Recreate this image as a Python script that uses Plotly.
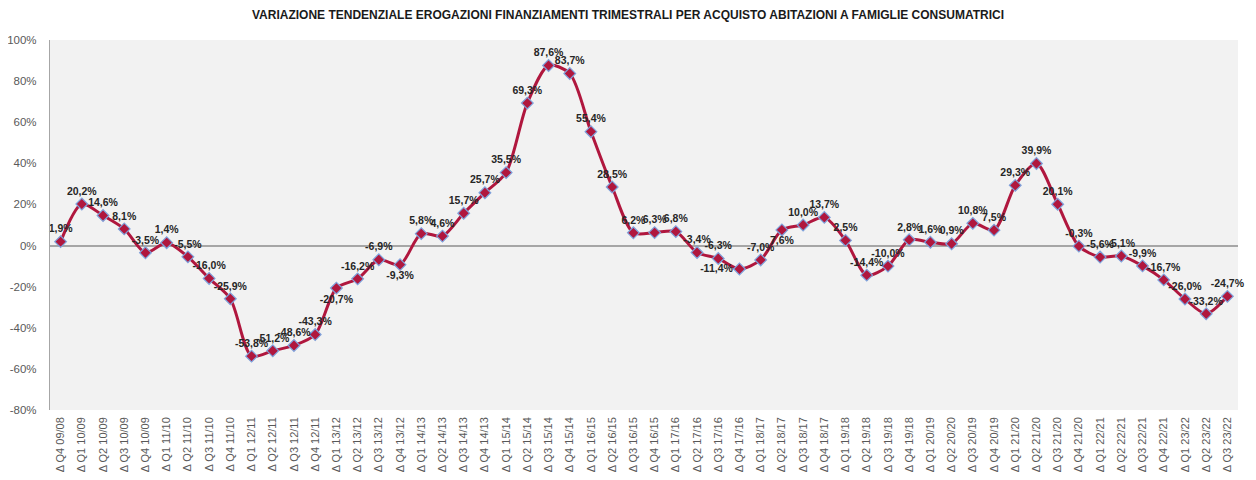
import plotly.graph_objects as go

categories = [
    "Δ Q4 09/08", "Δ Q1 10/09", "Δ Q2 10/09", "Δ Q3 10/09", "Δ Q4 10/09",
    "Δ Q1 11/10", "Δ Q2 11/10", "Δ Q3 11/10", "Δ Q4 11/10",
    "Δ Q1 12/11", "Δ Q2 12/11", "Δ Q3 12/11", "Δ Q4 12/11",
    "Δ Q1 13/12", "Δ Q2 13/12", "Δ Q3 13/12", "Δ Q4 13/12",
    "Δ Q1 14/13", "Δ Q2 14/13", "Δ Q3 14/13", "Δ Q4 14/13",
    "Δ Q1 15/14", "Δ Q2 15/14", "Δ Q3 15/14", "Δ Q4 15/14",
    "Δ Q1 16/15", "Δ Q2 16/15", "Δ Q3 16/15", "Δ Q4 16/15",
    "Δ Q1 17/16", "Δ Q2 17/16", "Δ Q3 17/16", "Δ Q4 17/16",
    "Δ Q1 18/17", "Δ Q2 18/17", "Δ Q3 18/17", "Δ Q4 18/17",
    "Δ Q1 19/18", "Δ Q2 19/18", "Δ Q3 19/18", "Δ Q4 19/18",
    "Δ Q1 20/19", "Δ Q2 20/20", "Δ Q3 20/19", "Δ Q4 20/19",
    "Δ Q1 21/20", "Δ Q2 21/20", "Δ Q3 21/20", "Δ Q4 21/20",
    "Δ Q1 22/21", "Δ Q2 22/21", "Δ Q3 22/21", "Δ Q4 22/21",
    "Δ Q1 23/22", "Δ Q2 23/22", "Δ Q3 23/22",
]

variation_pct = [
    1.9, 20.2, 14.6, 8.1, -3.5,
    1.4, -5.5, -16.0, -25.9,
    -53.8, -51.2, -48.6, -43.3,
    -20.7, -16.2, -6.9, -9.3,
    5.8, 4.6, 15.7, 25.7,
    35.5, 69.3, 87.6, 83.7,
    55.4, 28.5, 6.2, 6.3,
    6.8, -3.4, -6.3, -11.4,
    -7.0, 7.6, 10.0, 13.7,
    2.5, -14.4, -10.0, 2.8,
    1.6, 0.9, 10.8, 7.5,
    29.3, 39.9, 20.1, -0.3,
    -5.6, -5.1, -9.9, -16.7,
    -26.0, -33.2, -24.7,
]

y_ticks = [-80, -60, -40, -20, 0, 20, 40, 60, 80, 100]
y_tick_text = [f"{v}%" for v in y_ticks]

labels = [f"{v:.1f}%".replace(".", ",") for v in variation_pct]

positions = ["top center"] * len(variation_pct)
for i in (13, 16, 34):
    positions[i] = "bottom center"
positions[32] = "middle left"

fig = go.Figure()
fig.add_trace(go.Scatter(
    x=categories,
    y=variation_pct,
    mode="lines+markers+text",
    line=dict(color="#B0173E", width=3, shape="spline", smoothing=0.8),
    marker=dict(symbol="diamond", size=9, color="#B0173E",
                line=dict(color="#7EA2DC", width=1.2)),
    text=labels,
    textposition=positions,
    textfont=dict(family="Liberation Sans, Arial, sans-serif", size=10.5,
                  color="#262626", weight="bold"),
    cliponaxis=False,
    showlegend=False,
    hoverinfo="skip",
))

# page body has an 8px default margin: figure is sized/offset to compensate
fig.update_layout(
    width=1248, height=472,
    margin=dict(l=42, r=18, t=32, b=70, autoexpand=False),
    paper_bgcolor="white",
    plot_bgcolor="#F2F2F2",
    title=dict(
        text="<b>VARIAZIONE TENDENZIALE EROGAZIONI FINANZIAMENTI TRIMESTRALI PER ACQUISTO ABITAZIONI A FAMIGLIE CONSUMATRICI</b>",
        x=(628 - 8) / 1248, xanchor="center", y=1 - 7 / 472, yanchor="middle",
        font=dict(family="Liberation Sans, Arial, sans-serif", size=12, color="#1a1a1a"),
    ),
    font=dict(family="Liberation Sans, Arial, sans-serif"),
)

fig.update_xaxes(
    type="category",
    range=[-0.5, len(categories) - 0.5],
    automargin=False,
    tickangle=-90,
    tickfont=dict(size=11, color="#595959"),
    showgrid=False,
    showline=False,
    ticks="",
    ticklabelstandoff=4,
)

fig.update_yaxes(
    range=[-80, 100],
    automargin=False,
    tickvals=y_ticks,
    ticktext=y_tick_text,
    tickfont=dict(size=11.5, color="#595959"),
    showgrid=False,
    zeroline=True,
    zerolinecolor="#A6A6A6",
    zerolinewidth=1.5,
    showline=True,
    linecolor="#A6A6A6",
    linewidth=1.2,
    ticks="",
    ticklabelstandoff=10,
)

fig.write_html("out.html")
